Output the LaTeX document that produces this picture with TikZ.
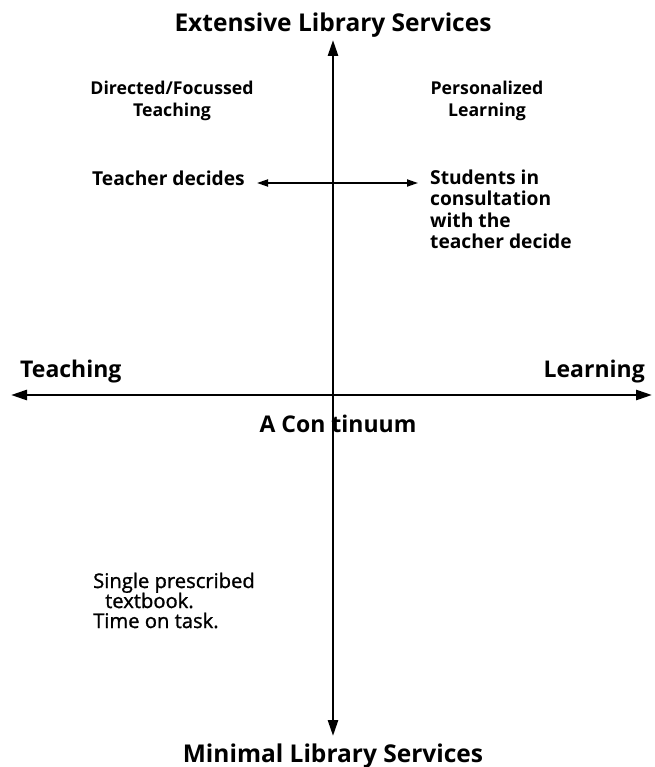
\documentclass[tikz,border=0pt]{standalone}
\usepackage{fontspec}
\setmainfont{Open Sans}
\newfontfamily\mediumfont[FakeBold=1.2]{Open Sans}
\usetikzlibrary{arrows.meta}
\begin{document}
\begin{tikzpicture}[x=1pt,y=-1pt,
  bigtitle/.style={font=\bfseries\fontsize{24.5}{30}\selectfont, inner sep=0pt},
  axislabel/.style={font=\bfseries\fontsize{23}{26}\selectfont, inner sep=0pt},
  quadlabel/.style={font=\bfseries\fontsize{17.7}{20}\selectfont, inner sep=0pt},
  bodytext/.style={font=\bfseries\fontsize{19.2}{21}\selectfont, inner sep=0pt},
  lighttext/.style={font=\mediumfont\fontsize{20.2}{21}\selectfont, inner sep=0pt},
  axis/.style={line width=2.6pt, {Triangle[length=16pt,width=10pt]}-{Triangle[length=16pt,width=10pt]}},
  smallarrow/.style={line width=1.8pt, {Triangle[length=11pt,width=7pt]}-{Triangle[length=11pt,width=7pt]}}
]
\useasboundingbox[fill=white] (0,0) rectangle (654,767);

% axes
\coordinate (vtop) at (333,40);
\coordinate (vbot) at (333,736);
\coordinate (hl) at (11,395);
\coordinate (hr) at (652,395);
\draw[axis] (vbot) -- (vtop);
\draw[axis] (hl) -- (hr);

% titles
\node[bigtitle, anchor=base] (top) at (333,32) {Extensive Library Services};
\node[bigtitle, anchor=base] (bottom) at (333,762) {Minimal Library Services};

% axis labels
\node[axislabel, anchor=base west] (teach) at (20,377) {Teaching};
\node[axislabel, anchor=base east] (learn) at (645,377) {Learning};
\node[axislabel, anchor=base] (cont) at (338,432) {A Con\hspace{6pt}tinuum};

% quadrant labels
\node[quadlabel, anchor=base] (dft1) at (172,95) {Directed/Focussed};
\node[quadlabel, anchor=base] (dft2) at (172,117) {Teaching};
\node[quadlabel, anchor=base] (pl1) at (487,95) {Personalized};
\node[quadlabel, anchor=base] (pl2) at (487,117) {Learning};

% teacher / students
\node[bodytext, anchor=base west] (td) at (92,186) {Teacher decides};
\node[bodytext, anchor=base west] (st1) at (430,185) {Students in};
\node[bodytext, anchor=base west] (st2) at (430,206) {consultation};
\node[bodytext, anchor=base west] (st3) at (430,227) {with the};
\node[bodytext, anchor=base west] (st4) at (430,248) {teacher decide};
\coordinate (sl) at (257,183);
\coordinate (sr) at (418,183);
\draw[smallarrow] (sl) -- (sr);

% lower-left text
\node[lighttext, anchor=base west] (sp1) at (93,588) {Single prescribed};
\node[lighttext, anchor=base west] (sp2) at (105,608) {textbook.};
\node[lighttext, anchor=base west] (sp3) at (93,628) {Time on task.};
\end{tikzpicture}
\end{document}
